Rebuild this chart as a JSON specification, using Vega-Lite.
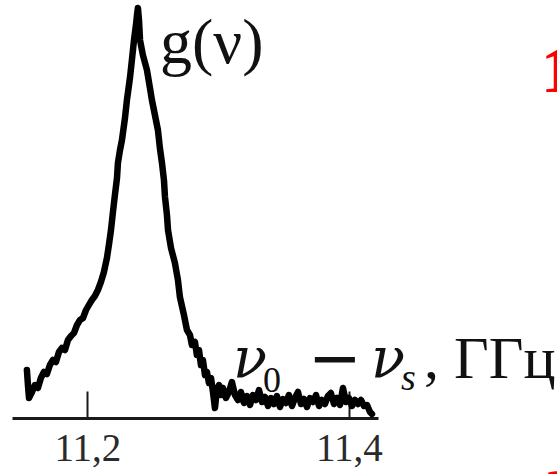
{
  "$schema": "https://vega.github.io/schema/vega-lite/v6.json",
  "width": 366,
  "height": 418,
  "autosize": {"type": "none"},
  "padding": {"left": 12, "top": 0, "right": 179, "bottom": 56},
  "background": "white",
  "config": {"view": {"stroke": null}},
  "datasets": {
    "spectrum": [
      {"nu": 11.1537, "g": 48}, {"nu": 11.1545, "g": 33}, {"nu": 11.1553, "g": 20}, {"nu": 11.1576, "g": 26},
      {"nu": 11.1598, "g": 33}, {"nu": 11.1621, "g": 30}, {"nu": 11.1644, "g": 40}, {"nu": 11.1667, "g": 46},
      {"nu": 11.169, "g": 44}, {"nu": 11.1713, "g": 53}, {"nu": 11.1736, "g": 58}, {"nu": 11.1759, "g": 56},
      {"nu": 11.1782, "g": 66}, {"nu": 11.1805, "g": 70}, {"nu": 11.1828, "g": 68}, {"nu": 11.1851, "g": 78},
      {"nu": 11.1874, "g": 82}, {"nu": 11.1897, "g": 85}, {"nu": 11.192, "g": 93}, {"nu": 11.1943, "g": 98},
      {"nu": 11.1966, "g": 100}, {"nu": 11.1989, "g": 108}, {"nu": 11.2011, "g": 113}, {"nu": 11.2034, "g": 118},
      {"nu": 11.2057, "g": 122}, {"nu": 11.208, "g": 128}, {"nu": 11.2103, "g": 136}, {"nu": 11.2126, "g": 146},
      {"nu": 11.2149, "g": 160}, {"nu": 11.2164, "g": 173}, {"nu": 11.218, "g": 188}, {"nu": 11.2195, "g": 206},
      {"nu": 11.221, "g": 223}, {"nu": 11.2226, "g": 240}, {"nu": 11.2233, "g": 255}, {"nu": 11.2249, "g": 268},
      {"nu": 11.2264, "g": 278}, {"nu": 11.2287, "g": 300}, {"nu": 11.2302, "g": 318}, {"nu": 11.2325, "g": 340},
      {"nu": 11.234, "g": 358}, {"nu": 11.2356, "g": 378}, {"nu": 11.2371, "g": 393}, {"nu": 11.2379, "g": 403},
      {"nu": 11.2386, "g": 410}, {"nu": 11.2394, "g": 398}, {"nu": 11.2402, "g": 378}, {"nu": 11.2424, "g": 363},
      {"nu": 11.2455, "g": 348}, {"nu": 11.2478, "g": 330}, {"nu": 11.2493, "g": 318}, {"nu": 11.2516, "g": 303},
      {"nu": 11.2539, "g": 288}, {"nu": 11.2554, "g": 270}, {"nu": 11.257, "g": 255}, {"nu": 11.2585, "g": 238},
      {"nu": 11.2593, "g": 221}, {"nu": 11.2608, "g": 203}, {"nu": 11.2616, "g": 188}, {"nu": 11.2639, "g": 170},
      {"nu": 11.2669, "g": 155}, {"nu": 11.2692, "g": 138}, {"nu": 11.2707, "g": 121}, {"nu": 11.2738, "g": 103},
      {"nu": 11.2761, "g": 88}, {"nu": 11.2784, "g": 83}, {"nu": 11.2799, "g": 73}, {"nu": 11.2822, "g": 76},
      {"nu": 11.2837, "g": 63}, {"nu": 11.2853, "g": 68}, {"nu": 11.2868, "g": 53}, {"nu": 11.2883, "g": 58},
      {"nu": 11.2899, "g": 43}, {"nu": 11.2914, "g": 46}, {"nu": 11.2929, "g": 35}, {"nu": 11.2945, "g": 40},
      {"nu": 11.296, "g": 26}, {"nu": 11.2975, "g": 10}, {"nu": 11.299, "g": 28}, {"nu": 11.3006, "g": 33},
      {"nu": 11.3021, "g": 23}, {"nu": 11.3036, "g": 30}, {"nu": 11.3059, "g": 20}, {"nu": 11.3082, "g": 26},
      {"nu": 11.3105, "g": 36}, {"nu": 11.3128, "g": 23}, {"nu": 11.3151, "g": 18}, {"nu": 11.3174, "g": 26},
      {"nu": 11.3197, "g": 15}, {"nu": 11.322, "g": 22}, {"nu": 11.3243, "g": 13}, {"nu": 11.3266, "g": 23},
      {"nu": 11.3289, "g": 18}, {"nu": 11.3312, "g": 28}, {"nu": 11.3335, "g": 16}, {"nu": 11.3358, "g": 21},
      {"nu": 11.3381, "g": 12}, {"nu": 11.3403, "g": 20}, {"nu": 11.3426, "g": 14}, {"nu": 11.3449, "g": 22},
      {"nu": 11.3472, "g": 11}, {"nu": 11.3495, "g": 19}, {"nu": 11.3518, "g": 15}, {"nu": 11.3541, "g": 23},
      {"nu": 11.3564, "g": 12}, {"nu": 11.3587, "g": 20}, {"nu": 11.361, "g": 26}, {"nu": 11.3633, "g": 14},
      {"nu": 11.3656, "g": 19}, {"nu": 11.3679, "g": 11}, {"nu": 11.3702, "g": 20}, {"nu": 11.3725, "g": 16},
      {"nu": 11.3748, "g": 23}, {"nu": 11.3771, "g": 12}, {"nu": 11.3793, "g": 18}, {"nu": 11.3816, "g": 14},
      {"nu": 11.3839, "g": 22}, {"nu": 11.3862, "g": 25}, {"nu": 11.3885, "g": 14}, {"nu": 11.3908, "g": 20},
      {"nu": 11.3931, "g": 13}, {"nu": 11.3954, "g": 30}, {"nu": 11.3977, "g": 16}, {"nu": 11.4, "g": 20},
      {"nu": 11.4023, "g": 12}, {"nu": 11.4046, "g": 18}, {"nu": 11.4069, "g": 14}, {"nu": 11.4092, "g": 18},
      {"nu": 11.4115, "g": 12}, {"nu": 11.4138, "g": 13}, {"nu": 11.4161, "g": 6}, {"nu": 11.4176, "g": 4}
    ],
    "italicMain": [
      {"nu": 11.3113, "g": 41, "label": "ν"},
      {"nu": 11.4168, "g": 41, "label": "ν"}
    ],
    "minusSign": [
      {"nu": 11.3686, "g": 38, "label": "−"}
    ],
    "uprightMain": [
      {"nu": 11.4574, "g": 40, "label": ", ГГц"}
    ],
    "subDigit": [
      {"nu": 11.3342, "g": 26, "label": "0"}
    ],
    "subItalic": [
      {"nu": 11.4398, "g": 28, "label": "s"}
    ],
    "gLabel": [
      {"nu": 11.2554, "g": 355, "label": "g(ν)"}
    ],
    "redMarks": [
      {"nu": 11.5468, "g": 326, "label": "1"},
      {"nu": 11.5491, "g": -96, "label": "2"}
    ]
  },
  "layer": [
    {
      "data": {"name": "spectrum"},
      "mark": {"type": "line", "color": "black", "strokeWidth": 6.5, "strokeJoin": "round", "strokeCap": "round"},
      "encoding": {
        "x": {
          "field": "nu", "type": "quantitative",
          "scale": {"domain": [11.1423, 11.4222], "nice": false, "zero": false},
          "axis": {
            "values": [11.2, 11.4],
            "labelExpr": "replace(format(datum.value, '.1f'), '.', ',')",
            "title": null, "grid": false,
            "domainColor": "#1a1a1a", "domainWidth": 3,
            "tickColor": "#1a1a1a", "tickWidth": 2, "tickSize": -27,
            "labelPadding": 69, "labelBaseline": "alphabetic",
            "labelFont": "Liberation Serif", "labelFontSize": 39, "labelColor": "#2a2a2a"
          }
        },
        "y": {
          "field": "g", "type": "quantitative",
          "scale": {"domain": [0, 418], "nice": false, "zero": false},
          "axis": null
        }
      }
    },
    {
      "data": {"name": "gLabel"},
      "mark": {"type": "text", "font": "Liberation Serif", "fontSize": 64, "align": "left", "baseline": "alphabetic", "color": "#111111"},
      "encoding": {
        "x": {"field": "nu", "type": "quantitative"},
        "y": {"field": "g", "type": "quantitative"},
        "text": {"field": "label"}
      }
    },
    {
      "data": {"name": "italicMain"},
      "mark": {"type": "text", "font": "DejaVu Serif", "fontStyle": "italic", "fontSize": 56, "align": "left", "baseline": "alphabetic", "color": "#111111"},
      "encoding": {
        "x": {"field": "nu", "type": "quantitative"},
        "y": {"field": "g", "type": "quantitative"},
        "text": {"field": "label"}
      }
    },
    {
      "data": {"name": "minusSign"},
      "mark": {"type": "text", "font": "DejaVu Sans", "fontSize": 64, "align": "left", "baseline": "alphabetic", "color": "#111111"},
      "encoding": {
        "x": {"field": "nu", "type": "quantitative"},
        "y": {"field": "g", "type": "quantitative"},
        "text": {"field": "label"}
      }
    },
    {
      "data": {"name": "uprightMain"},
      "mark": {"type": "text", "font": "Liberation Serif", "fontSize": 60, "align": "left", "baseline": "alphabetic", "color": "#111111"},
      "encoding": {
        "x": {"field": "nu", "type": "quantitative"},
        "y": {"field": "g", "type": "quantitative"},
        "text": {"field": "label"}
      }
    },
    {
      "data": {"name": "subDigit"},
      "mark": {"type": "text", "font": "Liberation Serif", "fontSize": 36, "align": "left", "baseline": "alphabetic", "color": "#111111"},
      "encoding": {
        "x": {"field": "nu", "type": "quantitative"},
        "y": {"field": "g", "type": "quantitative"},
        "text": {"field": "label"}
      }
    },
    {
      "data": {"name": "subItalic"},
      "mark": {"type": "text", "font": "Liberation Serif", "fontStyle": "italic", "fontSize": 38, "align": "left", "baseline": "alphabetic", "color": "#111111"},
      "encoding": {
        "x": {"field": "nu", "type": "quantitative"},
        "y": {"field": "g", "type": "quantitative"},
        "text": {"field": "label"}
      }
    },
    {
      "data": {"name": "redMarks"},
      "mark": {"type": "text", "font": "Liberation Serif", "fontWeight": "bold", "fontSize": 66, "align": "left", "baseline": "alphabetic", "color": "#ff0000"},
      "encoding": {
        "x": {"field": "nu", "type": "quantitative"},
        "y": {"field": "g", "type": "quantitative"},
        "text": {"field": "label"}
      }
    }
  ]
}
